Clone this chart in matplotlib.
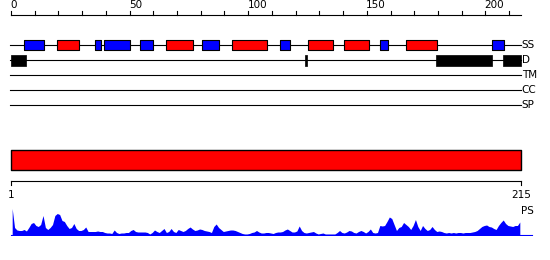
import numpy as np
import matplotlib.pyplot as plt

seq_len = 215

# secondary structure elements (residue coordinates), E = blue, H = red
ss_from = [5.6, 19.5, 35.5, 39.3, 54.5, 65.5, 80.7, 93.3, 113.4, 125.4, 140.5, 155.7, 166.7, 202.7]
ss_to = [13.8, 28.5, 37.8, 50.3, 59.7, 76.6, 87.6, 107.8, 117.5, 135.6, 150.8, 158.8, 179.5, 207.7]
ss_kind = ['E', 'H', 'E', 'E', 'E', 'H', 'E', 'H', 'E', 'H', 'H', 'E', 'H', 'E']

# disordered regions
dis_from = [0, 123.8, 179.3, 207.4]
dis_to = [6.2, 124.8, 202.8, 215]

tracks = ['SS', 'D', 'TM', 'CC', 'SP']

# domain bar
dom_from = [0]
dom_to = [215]

# PS profile, one value per residue
ps = [27, 8, 5.5, 5, 5, 6, 4.5, 8, 12, 13,
      10, 9, 11, 20, 8, 6, 8, 11, 20, 22,
      21, 15, 14, 10, 7, 8, 12, 7, 5, 5,
      6, 8.5, 4, 4, 4, 4, 4.5, 4, 4, 3,
      2.5, 2.5, 2, 5.5, 3, 2, 2.5, 2.5, 3, 3,
      5, 6, 4, 3.5, 3.5, 3.5, 3.5, 3, 1.5, 3,
      5.5, 4, 3, 5, 7, 3, 4, 7, 4, 3,
      6, 5, 4, 5, 7, 8.5, 6.5, 5, 5.5, 6.5,
      6, 5, 4.5, 4, 3, 9, 11.5, 8, 6, 4,
      4.5, 5, 5.5, 5.5, 5, 4, 3, 2, 1.5, 1.5,
      2, 3, 3.5, 5, 3.5, 2.5, 2.5, 3, 3, 2.5,
      2, 3, 3.5, 3.5, 4, 5.5, 6.5, 5, 3.5, 3.5,
      4.5, 9.5, 5, 3, 2.5, 3, 3.5, 4, 2.5, 1.5,
      2, 2.5, 1.5, 1.5, 1.5, 1.5, 1.5, 3, 5, 3,
      2.5, 3.5, 5, 4.5, 3, 2.5, 4, 5, 4, 2.5,
      4, 6.5, 3, 2.5, 3, 10, 9.5, 10, 14, 18.5,
      17, 11, 5, 8, 9, 13, 11, 9, 6, 10,
      16, 9, 5, 10, 7, 5, 6, 9, 6, 4,
      4.5, 4, 3, 2.5, 3, 2.5, 3, 2.5, 3, 3,
      2.5, 3, 3, 3, 3.5, 4, 5, 7, 9, 10,
      10.5, 9, 8.5, 7, 6, 10, 13, 15.5, 12, 10,
      9.5, 9, 10, 10, 13.5]

# layout (pixels, y down)
track_y = [45, 60.3, 75.3, 90, 105.3]
px_per_res = 510 / seq_len
x_lo = -11 / px_per_res
x_hi = x_lo + 550 / px_per_res

fig = plt.figure(figsize=(5.5, 2.6), dpi=100)
ax = fig.add_axes([0, 0, 1, 1])
ax.set_xlim(x_lo, x_hi)
ax.set_ylim(260, 0)
ax.axis('off')

# top ruler
ax.plot([0, seq_len], [15, 15], 'k-', lw=0.8)
for t in range(0, seq_len, 10):
    ax.plot([t, t], [11, 15], 'k-', lw=0.8)
    if t % 50 == 0:
        ax.text(t - 0.3, 10.5, str(t), ha='left', va='bottom', fontsize=7.5)

# track lines and names
for name, y in zip(tracks, track_y):
    ax.plot([-0.4, seq_len], [y, y], 'k-', lw=0.8, zorder=1)
    ax.text(seq_len + 0.3, y, name, ha='left', va='center', fontsize=7.5)

ss_cols = ['blue' if k == 'E' else 'red' for k in ss_kind]
ax.broken_barh([(a, b - a) for a, b in zip(ss_from, ss_to)],
               (track_y[0] - 5.3, 10.6), facecolors=ss_cols,
               edgecolor='black', lw=0.8, zorder=2)
ax.broken_barh([(a, b - a) for a, b in zip(dis_from, dis_to)],
               (track_y[1] - 5.3, 10.6), facecolors='black',
               edgecolor='black', lw=0.5, zorder=2)

# domain bar
ax.broken_barh([(a, b - a) for a, b in zip(dom_from, dom_to)],
               (150, 20), facecolors='red', edgecolor='black', lw=1)

# bottom ruler
ax.plot([0, seq_len], [180.5, 180.5], 'k-', lw=0.8)
ax.plot([0, 0], [180.5, 185], 'k-', lw=0.8)
ax.plot([seq_len, seq_len], [180.5, 185], 'k-', lw=0.8)
ax.text(0, 195, '1', ha='center', va='center', fontsize=7.5)
ax.text(seq_len, 195, str(seq_len), ha='center', va='center', fontsize=7.5)
ax.text(seq_len + 0.2, 210.5, 'PS', ha='left', va='center', fontsize=7.5)

# PS profile
pax = fig.add_axes([0, (260 - 235.5) / 260, 1, 28 / 260])
pax.set_xlim(x_lo, x_hi)
pax.set_ylim(0, 28)
pax.axis('off')
res = np.arange(1, seq_len + 1) - 0.5
pax.fill_between(res, ps, color='blue', lw=0)
pax.plot([0, seq_len + 4.6], [0.3, 0.3], color='blue', lw=0.8)

fig.savefig('out.png', dpi=100)
